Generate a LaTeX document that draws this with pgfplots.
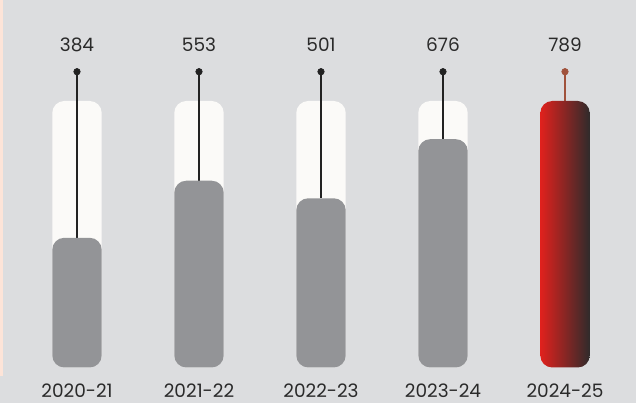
\documentclass[border=0pt]{standalone}
\usepackage{pgfplots}
\pgfplotsset{compat=1.18}
\usepackage{fontspec}
\setmainfont{Poppins}
\definecolor{bgc}{HTML}{DCDDDF}
\definecolor{trk}{HTML}{FBFAF8}
\definecolor{barc}{HTML}{939497}
\definecolor{pinkc}{HTML}{FDE4D8}
\definecolor{txt}{HTML}{2A2A2A}
\definecolor{stem}{HTML}{222222}
\definecolor{redl}{HTML}{E0211D}
\definecolor{redm}{HTML}{A0533F}
\definecolor{redr}{HTML}{2F2B2B}
\definecolor{stemr}{HTML}{A0523C}
\begin{document}
\begin{tikzpicture}
\begin{axis}[
  width=636pt, height=403pt, scale only axis,
  xmin=-0.6311, xmax=4.582, ymin=-105.1, ymax=1088,
  axis lines=none, ticks=none, clip=false,
  axis background/.style={fill=bgc},
]
% left accent strip
\fill[pinkc] (rel axis cs:0,1) rectangle ([xshift=3pt]rel axis cs:0,0.067);
% tracks
\pgfplotsinvokeforeach{0,1,2,3}{
\addplot[fill=trk, draw=none, rounded corners=12pt] coordinates {(#1,0) (#1-0.2025,0) (#1-0.2025,789) (#1+0.2025,789) (#1+0.2025,0)} -- cycle;
}
% stems
\addplot[stem, line width=2pt, mark=*, mark size=3.3pt, mark indices={1}, mark options={solid, fill=stem, line width=0.5pt}] coordinates {(0,875.7) (0,384)};
\addplot[stem, line width=2pt, mark=*, mark size=3.3pt, mark indices={1}, mark options={solid, fill=stem, line width=0.5pt}] coordinates {(1,875.7) (1,553)};
\addplot[stem, line width=2pt, mark=*, mark size=3.3pt, mark indices={1}, mark options={solid, fill=stem, line width=0.5pt}] coordinates {(2,875.7) (2,501)};
\addplot[stem, line width=2pt, mark=*, mark size=3.3pt, mark indices={1}, mark options={solid, fill=stem, line width=0.5pt}] coordinates {(3,875.7) (3,676)};
\addplot[stemr, line width=2pt, mark=*, mark size=3.3pt, mark indices={1}, mark options={solid, fill=stemr, line width=0.5pt}] coordinates {(4,875.7) (4,789)};
% value bars
\addplot[fill=barc, draw=none, rounded corners=12pt] coordinates {(0,0) (-0.2025,0) (-0.2025,384) (0.2025,384) (0.2025,0)} -- cycle;
\addplot[fill=barc, draw=none, rounded corners=12pt] coordinates {(1,0) (0.7975,0) (0.7975,553) (1.2025,553) (1.2025,0)} -- cycle;
\addplot[fill=barc, draw=none, rounded corners=12pt] coordinates {(2,0) (1.7975,0) (1.7975,501) (2.2025,501) (2.2025,0)} -- cycle;
\addplot[fill=barc, draw=none, rounded corners=12pt] coordinates {(3,0) (2.7975,0) (2.7975,676) (3.2025,676) (3.2025,0)} -- cycle;
\addplot[draw=none, left color=redl, middle color=redm, right color=redr, rounded corners=12pt] coordinates {(4,0) (3.7975,0) (3.7975,789) (4.2025,789) (4.2025,0)} -- cycle;
% value labels
\addplot[only marks, mark=none, nodes near coords, point meta=explicit symbolic,
  nodes near coords style={anchor=center, font=\fontsize{18.5}{20}\selectfont, text=txt}]
  coordinates {(0,954.8) [384] (1,954.8) [553] (2,954.8) [501] (3,954.8) [676] (4,954.8) [789]};
% category labels
\addplot[only marks, mark=none, nodes near coords, point meta=explicit symbolic,
  nodes near coords style={anchor=center, font=\fontsize{18.5}{20}\selectfont, text=txt}]
  coordinates {(0,-69.6) [2020-21] (1,-69.6) [2021-22] (2,-69.6) [2022-23] (3,-69.6) [2023-24] (4,-69.6) [2024-25]};
\end{axis}
\end{tikzpicture}
\end{document}
